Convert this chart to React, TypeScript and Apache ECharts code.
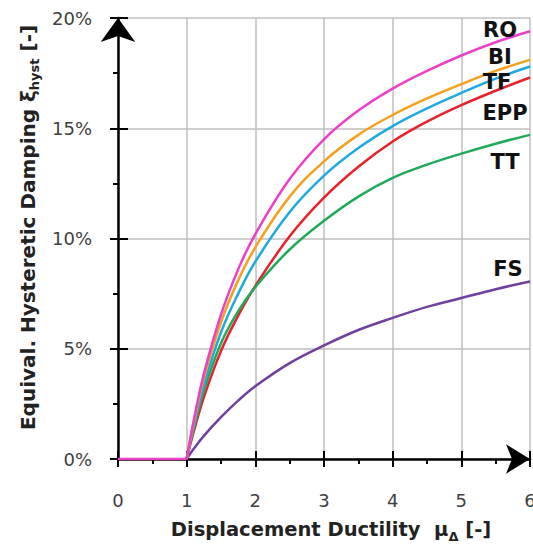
import React, { useEffect, useRef } from "react";
import * as echarts from "echarts";

const mu = [1, 1.1, 1.25, 1.5, 1.75, 2, 2.5, 3, 3.5, 4, 4.5, 5, 5.5, 6];
const RO = [0, 1.7, 3.85, 6.55, 8.6, 10.2, 12.7, 14.5, 15.8, 16.8, 17.6, 18.3, 18.9, 19.4];
const BI = [0, 1.6, 3.65, 6.2, 8.1, 9.6, 11.9, 13.5, 14.7, 15.6, 16.35, 17.0, 17.6, 18.1];
const TF = [0, 1.45, 3.35, 5.75, 7.5, 8.95, 11.2, 12.85, 14.1, 15.1, 15.9, 16.6, 17.25, 17.8];
const EPP = [0, 1.2, 2.8, 4.9, 6.5, 7.85, 10.1, 11.85, 13.25, 14.4, 15.3, 16.05, 16.7, 17.3];
const TT = [0, 1.35, 3.1, 5.25, 6.7, 7.8, 9.5, 10.8, 11.9, 12.75, 13.35, 13.85, 14.3, 14.7];
const FS = [0, 0.45, 1.05, 1.9, 2.65, 3.3, 4.35, 5.15, 5.85, 6.4, 6.9, 7.3, 7.7, 8.05];

const muZero = [0, 1];
const zeroVals = [0, 0];

const xTicks = [0, 1, 2, 3, 4, 5, 6];
const yTicks = [0, 5, 10, 15, 20];

const FONT = "DejaVu Sans";

type Curve = { name: string; values: number[]; color: string; off: [number, number] };

const curves: Curve[] = [
  { name: "FS", values: FS, color: "#7040A0", off: [-30, -12] },
  { name: "EPP", values: EPP, color: "#E8212B", off: [-33, 35] },
  { name: "TT", values: TT, color: "#1FAA59", off: [-33, 27] },
  { name: "TF", values: TF, color: "#1FA9E1", off: [-41, 15] },
  { name: "BI", values: BI, color: "#F5A01F", off: [-38, -3] },
  { name: "RO", values: RO, color: "#EE3FC8", off: [-38, -1] },
];

export default function App() {
  const ref = useRef<HTMLDivElement>(null);
  useEffect(() => {
    if (!ref.current) return;
    const chart = echarts.init(ref.current, null, { renderer: "svg" });
    const baseX = {
      type: "value" as const,
      min: xTicks[0],
      max: xTicks[xTicks.length - 1],
      interval: 1,
      position: "bottom" as const,
    };
    const baseY = {
      type: "value" as const,
      min: yTicks[0],
      max: yTicks[yTicks.length - 1],
      interval: 5,
      position: "left" as const,
    };
    const nameStyle = (size: number, pad: number[]) => ({
      fontFamily: FONT,
      fontWeight: "bold",
      fontSize: size,
      color: "#222",
      lineHeight: size + 6,
      padding: pad,
      rich: {
        sub: {
          fontFamily: FONT,
          fontWeight: "bold",
          fontSize: Math.round(size * 0.65),
          lineHeight: Math.round(size * 0.7),
          verticalAlign: "bottom",
          color: "#222",
        },
      },
    });
    const series: any[] = curves.map((c) => ({
      name: c.name,
      type: "line",
      data: mu.map((m, i) => [m, c.values[i]]),
      smooth: 0.4,
      showSymbol: false,
      symbol: "none",
      lineStyle: { color: c.color, width: 2.5 },
      itemStyle: { color: c.color },
      endLabel: {
        show: true,
        formatter: "{a}",
        align: "center",
        offset: c.off,
        fontFamily: FONT,
        fontWeight: "bold",
        fontSize: 21,
        color: "#111",
      },
      clip: false,
      z: 3,
    }));
    series.push({
      name: "RO-flat",
      type: "line",
      data: muZero.map((m, i) => [m, zeroVals[i]]),
      showSymbol: false,
      symbol: "none",
      lineStyle: { color: "#EE3FC8", width: 2.5 },
      z: 3,
    });
    chart.setOption({
      animation: false,
      backgroundColor: "#ffffff",
      grid: { left: 118, right: 3, top: 18, bottom: 88, containLabel: false, outerBoundsMode: "none" },
      xAxis: [
        {
          ...baseX,
          axisLine: {
            show: true,
            onZero: false,
            lineStyle: { color: "#000", width: 2.5 },
            symbol: ["none", "arrow"],
            symbolSize: [22, 24],
            symbolOffset: [0, 0],
          },
          axisTick: { show: true, inside: true, length: 8, lineStyle: { color: "#000", width: 2 } },
          axisLabel: { margin: 32, fontSize: 18, color: "#404040", fontFamily: FONT },
          splitLine: { show: true, lineStyle: { color: "#BFBFBF", width: 1.5 } },
          name: "Displacement Ductility  μ{sub|Δ} [-]",
          nameLocation: "middle",
          nameGap: 58,
          nameTextStyle: nameStyle(19.5, [0, 0, 0, 14]),
        },
        {
          ...baseX,
          axisLine: { show: false, onZero: false },
          axisTick: { show: true, inside: false, length: 8, lineStyle: { color: "#000", width: 2 } },
          minorTick: { show: true, splitNumber: 2, length: 5, lineStyle: { color: "#000", width: 2 } },
          axisLabel: { show: false },
          splitLine: { show: false },
        },
      ],
      yAxis: [
        {
          ...baseY,
          axisLine: {
            show: true,
            onZero: false,
            lineStyle: { color: "#000", width: 2.5 },
            symbol: ["none", "arrow"],
            symbolSize: [26, 24],
            symbolOffset: [0, 0],
          },
          axisTick: { show: true, inside: true, length: 10, lineStyle: { color: "#000", width: 2 } },
          axisLabel: { margin: 26, fontSize: 18, color: "#404040", fontFamily: FONT, formatter: "{value}%" },
          splitLine: { show: true, lineStyle: { color: "#BFBFBF", width: 1.5 } },
          name: "Equival. Hysteretic Damping ξ{sub|hyst} [-]",
          nameLocation: "middle",
          nameGap: 74,
          nameTextStyle: nameStyle(20, [0, 0, 0, 22]),
        },
        {
          ...baseY,
          axisLine: { show: false, onZero: false },
          axisTick: { show: true, inside: false, length: 8, lineStyle: { color: "#000", width: 2 } },
          minorTick: { show: true, splitNumber: 2, length: 5, lineStyle: { color: "#000", width: 2 } },
          axisLabel: { show: false },
          splitLine: { show: false },
        },
      ],
      series,
    });
    return () => chart.dispose();
  }, []);
  return (
    <div
      ref={ref}
      style={{ position: "fixed", left: 0, top: 0, width: 533, height: 547 }}
    />
  );
}
